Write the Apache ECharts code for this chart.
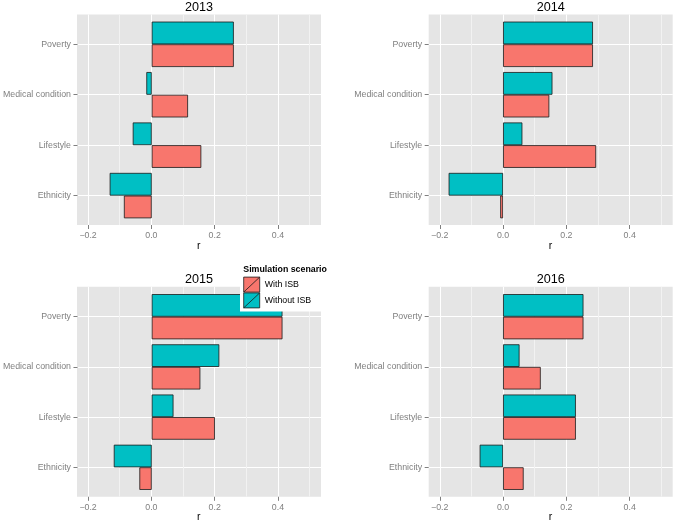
<!DOCTYPE html>
<html>
<head>
<meta charset="utf-8">
<script src="https://cdn.jsdelivr.net/npm/echarts@6/dist/echarts.min.js"></script>
<style>
html,body{margin:0;padding:0;background:#fff;}
#chart{width:675px;height:524px;}
</style>
</head>
<body>
<div id="chart"></div>
<script>
// ---- data ----
const CATEGORIES = ['Ethnicity', 'Lifestyle', 'Medical condition', 'Poverty'];
const YEARS = ['2013', '2014', '2015', '2016'];
const SERIES_NAMES = ['With ISB', 'Without ISB'];
const WITH_ISB_2013    = [-0.088, 0.157, 0.115, 0.260];
const WITHOUT_ISB_2013 = [-0.133, -0.060, -0.017, 0.260];
const WITH_ISB_2014    = [-0.009, 0.294, 0.146, 0.284];
const WITHOUT_ISB_2014 = [-0.172, 0.061, 0.156, 0.284];
const WITH_ISB_2015    = [-0.039, 0.200, 0.154, 0.414];
const WITHOUT_ISB_2015 = [-0.120, 0.069, 0.214, 0.414];
const WITH_ISB_2016    = [0.065, 0.230, 0.119, 0.254];
const WITHOUT_ISB_2016 = [-0.074, 0.230, 0.052, 0.254];
const X_TICKS = [-0.2, 0.0, 0.2, 0.4];
const X_MINOR_STEP = 0.1;
const X_LIMITS = [-0.235, 0.536];
const AXIS_TITLE = 'r';
const LEGEND_TITLE = 'Simulation scenario';

const WITH_ISB = [WITH_ISB_2013, WITH_ISB_2014, WITH_ISB_2015, WITH_ISB_2016];
const WITHOUT_ISB = [WITHOUT_ISB_2013, WITHOUT_ISB_2014, WITHOUT_ISB_2015, WITHOUT_ISB_2016];

// ---- layout / style ----
const FONT = '"Liberation Sans", Arial, Helvetica, sans-serif';
const PW = 244;
const PANELS = [
  {left: 77,    top: 14.5,  bottom: 225,   catTop: 44.3,  catBottom: 195.6, titleTop: 1},
  {left: 428.7, top: 14.5,  bottom: 225,   catTop: 44.3,  catBottom: 195.6, titleTop: 1},
  {left: 77,    top: 286.8, bottom: 496.8, catTop: 316.7, catBottom: 467.3, titleTop: 273},
  {left: 428.7, top: 286.8, bottom: 496.8, catTop: 316.7, catBottom: 467.3, titleTop: 273}
];
const COL_WITH = '#F8766D';
const COL_WITHOUT = '#00BFC4';
const GREY50 = '#7F7F7F';

const scale = PW / (X_LIMITS[1] - X_LIMITS[0]);
const px = (p, v) => p.left + (v - X_LIMITS[0]) * scale;
const fmt = v => (v < 0 ? '\u2212' : '') + Math.abs(v).toFixed(1);

const grid = [], xAxis = [], yAxis = [], series = [], title = [];

PANELS.forEach((p, k) => {
  const h = p.bottom - p.top;
  // background grid
  let gi = grid.length;
  grid.push({left: p.left, top: p.top, width: PW, height: h, show: true,
    backgroundColor: '#E5E5E5', borderWidth: 0, z: 0});
  xAxis.push({gridIndex: gi, type: 'value', min: 0, max: 1, show: false});
  yAxis.push({gridIndex: gi, type: 'value', min: 0, max: 1, show: false});

  // vertical grid lines (major + minor) + axis title
  const gMin = X_TICKS[0];
  const gMax = X_TICKS[X_TICKS.length - 1] + X_MINOR_STEP;
  gi = grid.length;
  grid.push({left: px(p, gMin), top: p.top, width: px(p, gMax) - px(p, gMin), height: h});
  xAxis.push({gridIndex: gi, type: 'value', min: gMin, max: gMax, interval: X_MINOR_STEP, z: 1,
    axisLine: {show: false, onZero: false}, axisTick: {show: false}, axisLabel: {show: false},
    splitLine: {show: true, lineStyle: {color: ['#FFFFFF', '#F2F2F2'], width: 1}},
    name: AXIS_TITLE, nameLocation: 'middle', nameGap: 15.5,
    nameTextStyle: {color: '#000', fontSize: 10.5, fontFamily: FONT}});
  yAxis.push({gridIndex: gi, type: 'value', min: 0, max: 1, show: false});

  // tick marks + tick labels
  const tMin = X_TICKS[0], tMax = X_TICKS[X_TICKS.length - 1];
  gi = grid.length;
  grid.push({left: px(p, tMin), top: p.top, width: px(p, tMax) - px(p, tMin), height: h});
  xAxis.push({gridIndex: gi, type: 'value', min: tMin, max: tMax, interval: X_TICKS[1] - X_TICKS[0], z: 1,
    axisLine: {show: false, onZero: false},
    axisTick: {show: true, length: 4, lineStyle: {color: GREY50, width: 1}},
    axisLabel: {show: true, margin: 6, color: GREY50, fontSize: 8.8, fontFamily: FONT, formatter: fmt},
    splitLine: {show: false}});
  yAxis.push({gridIndex: gi, type: 'value', min: 0, max: 1, show: false});

  // bars
  gi = grid.length;
  grid.push({left: p.left, top: p.catTop, width: PW, height: p.catBottom - p.catTop});
  const xi = xAxis.length, yi = yAxis.length;
  xAxis.push({gridIndex: gi, type: 'value', min: X_LIMITS[0], max: X_LIMITS[1], show: false});
  yAxis.push({gridIndex: gi, type: 'category', data: CATEGORIES, boundaryGap: false, z: 1,
    axisLine: {show: false, onZero: false},
    axisTick: {show: true, length: 4, lineStyle: {color: GREY50, width: 1}},
    axisLabel: {show: true, margin: 6.5, color: GREY50, fontSize: 8.8, fontFamily: FONT},
    splitLine: {show: true, lineStyle: {color: '#FFFFFF', width: 1.1}}});

  const common = {type: 'bar', xAxisIndex: xi, yAxisIndex: yi, barWidth: '45%', barGap: '0%',
    clip: false, silent: true, emphasis: {disabled: true}};
  // first series is drawn on top within each category band
  series.push(Object.assign({}, common, {name: SERIES_NAMES[1], data: WITHOUT_ISB[k],
    itemStyle: {color: COL_WITHOUT, borderColor: '#1a1a1a', borderWidth: 0.8}}));
  series.push(Object.assign({}, common, {name: SERIES_NAMES[0], data: WITH_ISB[k],
    itemStyle: {color: COL_WITH, borderColor: '#1a1a1a', borderWidth: 0.8}}));

  title.push({text: YEARS[k], left: p.left + PW / 2, top: p.titleTop, textAlign: 'center', padding: 0,
    textStyle: {color: '#000', fontSize: 12.6, fontWeight: 'normal', fontFamily: FONT}});
});

title.push({text: LEGEND_TITLE, left: 243.3, top: 265.2, padding: 0, z: 10,
  textStyle: {color: '#000', fontSize: 8.8, fontWeight: 'bold', fontFamily: FONT}});

const option = {
  animation: false,
  backgroundColor: '#FFFFFF',
  title: title,
  legend: {
    data: SERIES_NAMES, orient: 'vertical', left: 240, top: 262,
    padding: [14.7, 24, 3.3, 3.3], backgroundColor: '#FFFFFF',
    itemWidth: 16, itemHeight: 15, itemGap: 0, selectedMode: false,
    icon: 'path://M0,0L16,0L16,15L0,15Z M0,15L16,0',
    itemStyle: {borderColor: '#1a1a1a', borderWidth: 0.8},
    textStyle: {color: '#000', fontSize: 8.8, fontFamily: FONT}
  },
  grid: grid, xAxis: xAxis, yAxis: yAxis, series: series
};

const chart = echarts.init(document.getElementById('chart'), null, {renderer: 'canvas'});
chart.setOption(option);
</script>
</body>
</html>
